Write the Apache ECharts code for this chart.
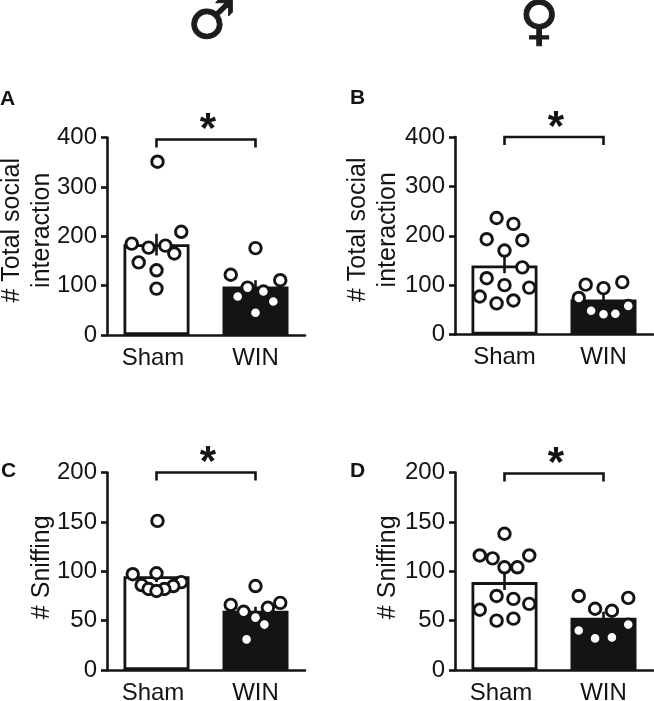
<!DOCTYPE html>
<html>
<head>
<meta charset="utf-8">
<style>
  html, body { margin: 0; padding: 0; background: #fff; }
  #chart { width: 654px; height: 701px; }
</style>
<script src="https://cdn.jsdelivr.net/npm/echarts@6/dist/echarts.min.js"></script>
</head>
<body>
<div id="chart"></div>
<script>
const categories = ['Sham', 'WIN'];

// values; offsets are the sideways spread in category units
const aMeans = [184, 98];
const aErrLow = [161, 85];
const aErrHigh = [205, 111];
const aShamValues = [351, 209, 185, 181, 177, 165, 147, 131, 94];
const aShamOffsets = [0.01, 0.25, -0.25, 0.09, -0.08, 0.18, -0.18, 0, 0];
const aWinValues = [176, 122, 111, 96, 88, 78, 68, 45];
const aWinOffsets = [0, -0.25, 0.25, -0.08, 0.08, -0.18, 0.18, 0];

const bMeans = [140, 71];
const bErrLow = [124, 60];
const bErrHigh = [164, 85];
const bShamValues = [236, 224, 193, 191, 170, 136, 114, 100, 95, 77, 69, 63];
const bShamOffsets = [-0.08, 0.09, -0.18, 0.18, 0, 0.18, -0.18, 0, 0.25, -0.25, 0.09, -0.08];
const bWinValues = [106, 101, 94, 74, 58, 48, 42, 41];
const bWinOffsets = [0.19, -0.18, 0, -0.25, 0.25, -0.125, 0.12, 0];

const cMeans = [95, 60];
const cErrLow = [89, 55];
const cErrHigh = [99, 64];
const cShamValues = [151, 98, 97, 89, 86, 85, 82, 82, 80];
const cShamOffsets = [0.01, 0, -0.24, 0.25, -0.15, 0.17, -0.08, 0.08, 0];
const cWinValues = [85, 68, 66, 63, 59, 53, 46, 31];
const cWinOffsets = [0, 0.25, -0.25, 0.125, -0.12, 0, 0.09, -0.09];

const dMeans = [89, 53];
const dErrLow = [81, 47];
const dErrHigh = [98, 59];
const dShamValues = [138, 116, 116, 113, 104, 104, 75, 72, 67, 61, 52, 50];
const dShamOffsets = [0, -0.25, 0.25, -0.12, 0, 0.13, -0.08, 0.09, 0.25, -0.25, 0.09, -0.08];
const dWinValues = [75, 73, 62, 60, 46, 40, 33, 32];
const dWinOffsets = [-0.25, 0.25, -0.085, 0.085, 0.25, -0.25, 0.085, -0.085];

const INK = '#141414';
const FONT = '"Liberation Sans", Arial, sans-serif';

const panels = [
  { letter: 'A', left: 107, top: 137.5, max: 400, step: 100, name: '# Total social\ninteraction', nameGap: 50, namePad: 12, nudge: true, bracket: 396,
    means: aMeans, low: aErrLow, high: aErrHigh, sham: aShamValues, shamX: aShamOffsets, win: aWinValues, winX: aWinOffsets },
  { letter: 'B', left: 455, top: 137, max: 400, step: 100, name: '# Total social\ninteraction', nameGap: 52, namePad: 12, nudge: false, bracket: 400,
    means: bMeans, low: bErrLow, high: bErrHigh, sham: bShamValues, shamX: bShamOffsets, win: bWinValues, winX: bWinOffsets },
  { letter: 'C', left: 107, top: 472.5, max: 200, step: 50, name: '# Sniffing', nameGap: 50, namePad: 8, nudge: true, bracket: 200,
    means: cMeans, low: cErrLow, high: cErrHigh, sham: cShamValues, shamX: cShamOffsets, win: cWinValues, winX: cWinOffsets },
  { letter: 'D', left: 455, top: 472.5, max: 200, step: 50, name: '# Sniffing', nameGap: 52, namePad: 8, nudge: true, bracket: 199,
    means: dMeans, low: dErrLow, high: dErrHigh, sham: dShamValues, shamX: dShamOffsets, win: dWinValues, winX: dWinOffsets }
];

const letterPos = { A: [0, 89], B: [350, 88], C: [1, 461], D: [350, 461] };

const grid = [], xAxis = [], yAxis = [], series = [], graphic = [];

panels.forEach((p, i) => {
  const catAxis = i * 2;
  const numAxis = i * 2 + 1;

  grid.push({ left: p.left, top: p.top, width: 198, height: 197.5, outerBoundsMode: 'none' });

  xAxis.push({
    type: 'category', gridIndex: i, data: categories,
    axisLine: { onZero: false, lineStyle: { color: INK, width: 2.6 } },
    axisTick: { alignWithLabel: true, length: 5, lineStyle: { color: INK, width: 2.6 } },
    axisLabel: {
      color: INK, fontFamily: FONT, fontSize: 24, margin: 11, interval: 0,
      // the Sham label sits a little left of its bar in three of the panels
      formatter: v => (v === 'Sham' && p.nudge ? '{n|' + v + '}' : v),
      rich: { n: { color: INK, fontFamily: FONT, fontSize: 24, padding: [0, 7, 0, 0] } }
    }
  });
  // hidden axis so the dots can sit beside the category centre
  xAxis.push({ type: 'value', gridIndex: i, min: -0.5, max: 1.5, show: false });

  yAxis.push({
    type: 'value', gridIndex: i, min: 0, max: p.max, interval: p.step,
    name: p.name, nameLocation: 'middle', nameGap: p.nameGap, nameRotate: 90, nameMoveOverlap: false,
    nameTextStyle: { color: INK, fontFamily: FONT, fontSize: 25, lineHeight: 30, padding: [0, 0, 0, p.namePad] },
    splitLine: { show: false },
    axisLine: { show: true, onZero: false, lineStyle: { color: INK, width: 2.6 } },
    axisTick: { show: true, length: 6, lineStyle: { color: INK, width: 2.6 } },
    axisLabel: { color: INK, fontFamily: FONT, fontSize: 24, margin: 10 }
  });

  series.push({
    type: 'bar', xAxisIndex: catAxis, yAxisIndex: i, barWidth: 66, silent: true,
    data: p.means.map((v, k) => ({
      value: v,
      itemStyle: { color: k === 0 ? '#fff' : INK, borderColor: INK, borderWidth: 2.8 }
    }))
  });

  // error bars
  series.push({
    type: 'custom', xAxisIndex: numAxis, yAxisIndex: i, silent: true, z: 3,
    data: p.low.map((v, k) => [k, v, p.high[k]]),
    renderItem: (params, api) => {
      const a = api.coord([api.value(0), api.value(1)]);
      const b = api.coord([api.value(0), api.value(2)]);
      return {
        type: 'line',
        shape: { x1: a[0], y1: a[1], x2: b[0], y2: b[1] },
        style: { stroke: INK, lineWidth: 2.6 }
      };
    }
  });

  // dots
  [[p.sham, p.shamX, 0], [p.win, p.winX, 1]].forEach(([vals, offs, cat]) => {
    series.push({
      type: 'scatter', xAxisIndex: numAxis, yAxisIndex: i, silent: true, z: 4,
      symbol: 'circle', symbolSize: 11.5,
      itemStyle: { color: '#fff', borderColor: INK, borderWidth: 2.9, opacity: 1 },
      data: vals.map((v, k) => [cat + offs[k], v])
    });
  });

  // significance bracket with its star
  series.push({
    type: 'custom', xAxisIndex: numAxis, yAxisIndex: i, silent: true, z: 5,
    data: [[0, 1, p.bracket]],
    renderItem: (params, api) => {
      const l = api.coord([api.value(0), api.value(2)]);
      const r = api.coord([api.value(1), api.value(2)]);
      return {
        type: 'group',
        children: [
          {
            type: 'polyline',
            shape: { points: [[l[0], l[1] + 8], [l[0], l[1]], [r[0], r[1]], [r[0], r[1] + 8]] },
            style: { stroke: INK, lineWidth: 2.6, fill: 'none' }
          },
          {
            type: 'text',
            style: {
              text: '*', x: (l[0] + r[0]) / 2 + 2, y: l[1] - 30,
              align: 'center', verticalAlign: 'top',
              font: 'bold 42px ' + FONT, fill: INK
            }
          }
        ]
      };
    }
  });

  graphic.push({
    type: 'text', left: letterPos[p.letter][0], top: letterPos[p.letter][1],
    style: { text: p.letter, font: 'bold 21px ' + FONT, fill: INK }
  });
});

graphic.push({
  type: 'text', left: 187, top: -4,
  style: { text: '\u2642', font: 'bold 54px "DejaVu Sans"', fill: '#1c1c1c', stroke: '#1c1c1c', lineWidth: 1 }
});
graphic.push({
  type: 'text', left: 519, top: -3,
  style: { text: '\u2640', font: 'bold 54px "DejaVu Sans"', fill: '#1c1c1c', stroke: '#1c1c1c', lineWidth: 1 }
});

const chart = echarts.init(document.getElementById('chart'), null, { renderer: 'canvas' });
chart.setOption({
  animation: false,
  backgroundColor: '#fff',
  tooltip: { show: false },
  grid, xAxis, yAxis, series, graphic
});
</script>
</body>
</html>
